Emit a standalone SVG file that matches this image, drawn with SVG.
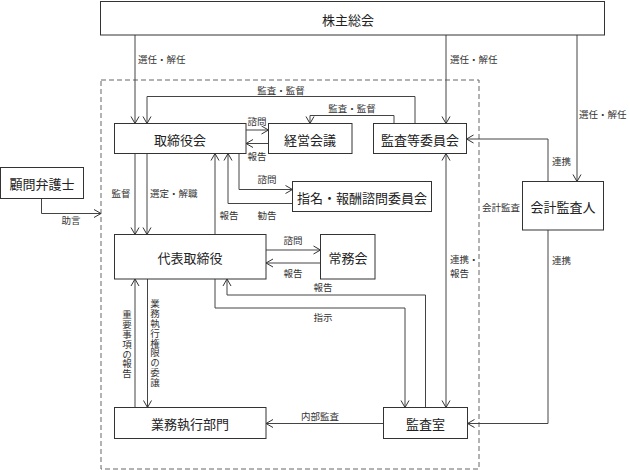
<svg xmlns="http://www.w3.org/2000/svg" width="630" height="470" viewBox="0 0 630 470">
<style>
.box{fill:#fff;stroke:#333;stroke-width:1}
.t{font-family:"Noto Sans CJK JP",sans-serif;font-size:13px;fill:#222;text-anchor:middle;dominant-baseline:central}
.l{font-family:"Noto Sans CJK JP",sans-serif;font-size:9.5px;fill:#333;text-anchor:middle;dominant-baseline:central}
.s{text-anchor:start}
.v{writing-mode:vertical-rl;text-orientation:upright;text-anchor:start;dominant-baseline:central;letter-spacing:0.3px}
.c{fill:none;stroke:#444;stroke-width:1}
</style>
<defs>
<marker id="a" viewBox="-8 -5 9 10" refX="0" refY="0" markerWidth="9" markerHeight="10" markerUnits="userSpaceOnUse" orient="auto-start-reverse">
<path d="M-7,-4 L0,0 L-7,4" fill="none" stroke="#333" stroke-width="1"/>
</marker>
</defs>
<rect x="101" y="80" width="378" height="389" fill="none" stroke="#666" stroke-width="1" stroke-dasharray="5,3"/>
<g id="connectors">
<path class="c" d="M135,35 V123.5" marker-end="url(#a)"/>
<path class="c" d="M446,35 V123.5" marker-end="url(#a)"/>
<path class="c" d="M577,35 V181.5" marker-end="url(#a)"/>
<path class="c" d="M415,123.5 V96.5 H147 V123.5" marker-end="url(#a)"/>
<path class="c" d="M394,123.5 V115.5 H310 V123.5" marker-end="url(#a)"/>
<path class="c" d="M246,130 H268.5" marker-end="url(#a)"/>
<path class="c" d="M268.5,143.5 H246" marker-end="url(#a)"/>
<path class="c" d="M135,153.5 V234.5" marker-end="url(#a)"/>
<path class="c" d="M147,153.5 V234.5" marker-end="url(#a)"/>
<path class="c" d="M215,234.5 V153.5" marker-end="url(#a)"/>
<path class="c" d="M292.5,203.5 H228 V153.5" marker-end="url(#a)"/>
<path class="c" d="M239,153.5 V189.5 H292.5" marker-end="url(#a)"/>
<path class="c" d="M41.5,198.5 V213.5 H101" marker-end="url(#a)"/>
<path class="c" d="M266,250 H320.5" marker-end="url(#a)"/>
<path class="c" d="M320.5,263 H266" marker-end="url(#a)"/>
<path class="c" d="M446,407.5 V153.5" marker-start="url(#a)" marker-end="url(#a)"/>
<path class="c" d="M548,181.5 V139 H466.5" marker-end="url(#a)"/>
<path class="c" d="M548,230 V423.5 H467.5" marker-end="url(#a)"/>
<path class="c" d="M135,407.5 V279" marker-end="url(#a)"/>
<path class="c" d="M147.5,279 V407.5" marker-end="url(#a)"/>
<path class="c" d="M425.5,407.5 V295 H227 V279" marker-end="url(#a)"/>
<path class="c" d="M215,279 V308 H405 V407.5" marker-end="url(#a)"/>
<path class="c" d="M383.5,423.5 H266" marker-end="url(#a)"/>
</g>
<g id="labels">
<text class="l s" x="138" y="58.5">選任・解任</text>
<text class="l s" x="450" y="58.5">選任・解任</text>
<text class="l s" x="579" y="113.5">選任・解任</text>
<text class="l" x="281" y="90">監査・監督</text>
<text class="l" x="352" y="107.5">監査・監督</text>
<text class="l" x="257" y="121">諮問</text>
<text class="l" x="257" y="156">報告</text>
<text class="l" x="121" y="193">監督</text>
<text class="l s" x="150" y="193">選定・解職</text>
<text class="l" x="229" y="215">報告</text>
<text class="l" x="267" y="179">諮問</text>
<text class="l" x="267" y="215">勧告</text>
<text class="l" x="71" y="220">助言</text>
<text class="l" x="293" y="240">諮問</text>
<text class="l" x="293" y="273">報告</text>
<text class="l s" x="552" y="161">連携</text>
<text class="l" x="501" y="207">会計監査</text>
<text class="l s" x="552" y="260">連携</text>
<text class="l s" x="450" y="259">連携・</text>
<text class="l s" x="450" y="273">報告</text>
<text class="l" x="323" y="287">報告</text>
<text class="l" x="323" y="317">指示</text>
<text class="l" x="320" y="416">内部監査</text>
<text class="l v" x="127" y="310">重要事項の報告</text>
<text class="l v" x="155" y="299">業務執行権限の委譲</text>
</g>
<g id="n-shareholders"><rect class="box" x="100.5" y="1.5" width="504" height="33.5"/><text class="t" x="348" y="19">株主総会</text></g>
<g id="n-board"><rect class="box" x="114.5" y="123.5" width="131.5" height="30"/><text class="t" x="180" y="139">取締役会</text></g>
<g id="n-mgmt"><rect class="box" x="268.5" y="123.5" width="83.5" height="30"/><text class="t" x="310" y="139">経営会議</text></g>
<g id="n-auditcomm"><rect class="box" x="373.5" y="123.5" width="93" height="30"/><text class="t" x="420" y="139">監査等委員会</text></g>
<g id="n-lawyer"><rect class="box" x="0.5" y="167.5" width="83" height="31"/><text class="t" x="42" y="183">顧問弁護士</text></g>
<g id="n-nomination"><rect class="box" x="292.5" y="181.5" width="139" height="30"/><text class="t" x="362" y="197">指名・報酬諮問委員会</text></g>
<g id="n-accountant"><rect class="box" x="522.5" y="181.5" width="81" height="48.5"/><text class="t" x="563" y="206">会計監査人</text></g>
<g id="n-rep"><rect class="box" x="114.5" y="234.5" width="151.5" height="44.5"/><text class="t" x="190" y="257">代表取締役</text></g>
<g id="n-exec"><rect class="box" x="320.5" y="234.5" width="54.5" height="44.5"/><text class="t" x="348" y="257">常務会</text></g>
<g id="n-ops"><rect class="box" x="114.5" y="407.5" width="151.5" height="31"/><text class="t" x="190" y="423.5">業務執行部門</text></g>
<g id="n-audit"><rect class="box" x="383.5" y="407.5" width="84" height="31"/><text class="t" x="425.5" y="423.5">監査室</text></g>
</svg>
